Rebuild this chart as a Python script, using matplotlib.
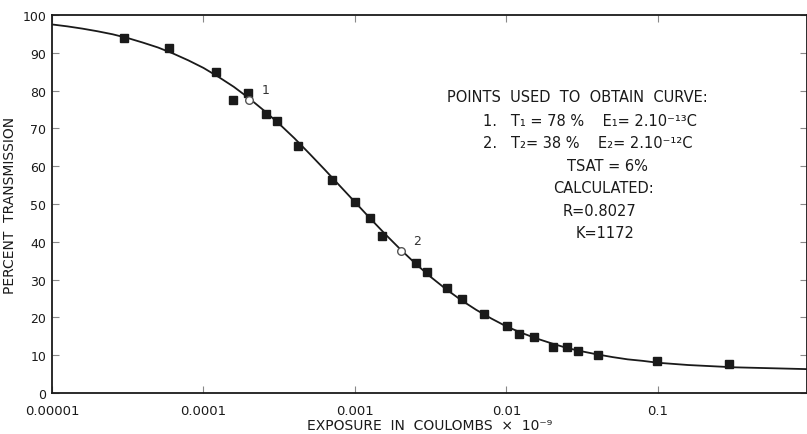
import matplotlib
matplotlib.use("Agg")
import matplotlib.pyplot as plt

# measured points (exposure in coulombs x 1e-9, percent transmission)
exposure = [3.0e-5, 5.9e-5, 1.21e-4, 1.57e-4, 1.98e-4, 2.58e-4, 3.05e-4, 4.2e-4,
            7.0e-4, 1.0e-3, 1.25e-3, 1.5e-3, 2.53e-3, 2.97e-3, 4.03e-3, 5.06e-3,
            7.1e-3, 1.01e-2, 1.21e-2, 1.52e-2, 2.02e-2, 2.52e-2, 2.98e-2, 4.04e-2,
            0.099, 0.296]
transmission = [93.8, 91.2, 84.8, 77.6, 79.3, 73.7, 71.9, 65.4,
                56.4, 50.5, 46.2, 41.6, 34.3, 32.1, 27.7, 24.9,
                20.9, 17.8, 15.6, 14.9, 12.1, 12.3, 11.2, 10.1,
                8.5, 7.8]

# the two points used to obtain the curve
used_x = [2.0e-4, 2.0e-3]
used_y = [77.6, 37.6]
used_labels = ["1", "2"]

# fitted curve
curve_x = [1e-5, 1.259e-5, 1.585e-5, 1.995e-5, 2.512e-5, 3.162e-5, 3.981e-5, 5.012e-5, 6.31e-5, 7.943e-5,
           1e-4, 1.259e-4, 1.585e-4, 1.995e-4, 2.512e-4, 3.162e-4, 3.981e-4, 5.012e-4, 6.31e-4, 7.943e-4,
           1e-3, 1.259e-3, 1.585e-3, 1.995e-3, 2.512e-3, 3.162e-3, 3.981e-3, 5.012e-3, 6.31e-3, 7.943e-3,
           1e-2, 1.259e-2, 1.585e-2, 1.995e-2, 2.512e-2, 3.162e-2, 3.981e-2, 5.012e-2, 6.31e-2, 7.943e-2,
           0.1, 0.1259, 0.1585, 0.1995, 0.2512, 0.3162, 0.3981, 0.5012, 0.631, 0.7943, 1.0]
curve_y = [97.5, 97.0, 96.4, 95.7, 94.9, 93.9, 92.7, 91.4, 89.8, 88.0,
           86.0, 83.6, 81.0, 78.0, 74.7, 71.2, 67.4, 63.3, 59.1, 54.8,
           50.5, 46.2, 42.0, 38.0, 34.2, 30.7, 27.5, 24.6, 22.0, 19.7,
           17.6, 15.9, 14.4, 13.1, 11.9, 11.0, 10.2, 9.5, 8.9, 8.5,
           8.0, 7.7, 7.4, 7.2, 7.0, 6.8, 6.7, 6.6, 6.5, 6.4, 6.3]

xticks = [1e-5, 1e-4, 1e-3, 1e-2, 1e-1]
xtick_labels = ["0.00001", "0.0001", "0.001", "0.01", "0.1"]
yticks = list(range(0, 101, 10))

W, H = 807, 435
fig = plt.figure(figsize=(W / 100, H / 100), dpi=100)
ax = fig.add_axes([52 / W, 41 / H, 755 / W, 378 / H])

ink = "#1a1a1a"
ax.plot(curve_x, curve_y, color=ink, lw=1.3, zorder=2)
ax.plot(exposure, transmission, ls="none", marker="s", ms=5.2, color=ink, zorder=3)
ax.plot(used_x, used_y, ls="none", marker="o", ms=5.5, mfc="white", mec="#555555", mew=1.0, zorder=4)
for x, y, s in zip(used_x, used_y, used_labels):
    ax.annotate(s, (x, y), xytext=(9, 5), textcoords="offset points",
                fontsize=9, color="#333333")

ax.set_xscale("log")
ax.set_xlim(1e-5, 0.963)
ax.set_ylim(0, 100)
ax.set_xticks(xticks)
ax.set_xticklabels(xtick_labels)
ax.xaxis.set_minor_locator(matplotlib.ticker.NullLocator())
ax.set_yticks(yticks)
ax.tick_params(direction="in", length=5, width=0.8, colors="#888888",
               labelcolor=ink, labelsize=9, top=True, right=True, pad=4)
ax.tick_params(axis="x", labelsize=9.5, pad=8)
for sp in ax.spines.values():
    sp.set_color(ink)
    sp.set_linewidth(1.3)

ax.set_xlabel("EXPOSURE  IN  COULOMBS  \u00d7  10\u207b\u2079", fontsize=10, color=ink, labelpad=1)
ax.set_ylabel("PERCENT  TRANSMISSION", fontsize=10, color=ink, labelpad=4)

lines = [
    ("POINTS  USED  TO  OBTAIN  CURVE:", 577, 98),
    ("1.   T\u2081 = 78 %    E\u2081= 2.10\u207b\u00b9\u00b3C", 590, 122),
    ("2.   T\u2082= 38 %    E\u2082= 2.10\u207b\u00b9\u00b2C", 588, 144),
    ("TSAT = 6%", 607, 167),
    ("CALCULATED:", 603, 189),
    ("R=0.8027", 600, 212),
    ("K=1172", 605, 234),
]
for s, px, py in lines:
    fig.text(px / W, 1 - py / H, s, ha="center", va="center", fontsize=10.5, color=ink)

fig.savefig("out.png", dpi=100, facecolor="white")
